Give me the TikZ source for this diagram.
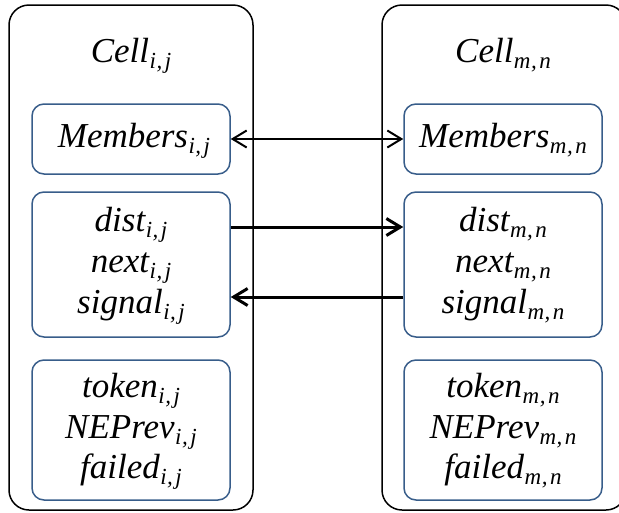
\documentclass[tikz,border=0pt]{standalone}
\usepackage{fontspec}
\setmainfont{Liberation Serif}
\usetikzlibrary{arrows.meta}
\definecolor{boxblue}{RGB}{56,93,138}
% italic subscript set smaller and lowered, with the comma spaced out
\newcommand{\sbs}[2]{\raisebox{-6pt}{\fontsize{23}{23}\selectfont\kern0.5pt#1\kern0.5pt,\kern2.5pt#2}}
\begin{document}
\begin{tikzpicture}[x=1pt,y=-1pt,
  cellbox/.style={draw=black,line width=1.5pt,rounded corners=20pt,minimum width=244pt,minimum height=505pt,inner sep=0pt},
  varbox/.style={draw=boxblue,line width=1.5pt,rounded corners=12pt,minimum width=198pt,inner sep=0pt},
  lbl/.style={anchor=base,inner sep=0pt,font=\fontsize{35}{35}\selectfont\itshape},
  link/.style={line width=2pt,-{Straight Barb[length=14pt,width=17pt]}},
  thicklink/.style={line width=3pt,-{Straight Barb[length=14pt,width=17pt]}}]
\useasboundingbox (0,0) rectangle (619,512);

% outer cells
\node[cellbox] (cl) at (131,257.5) {};
\node[cellbox] (cr) at (504,257.5) {};

% variable groups
\node[varbox,minimum height=70pt]  (ml) at (131,139) {};
\node[varbox,minimum height=145pt] (dl) at (131,264.5) {};
\node[varbox,minimum height=140pt] (tl) at (131,430) {};
\node[varbox,minimum height=70pt]  (mr) at (503,139) {};
\node[varbox,minimum height=145pt] (dr) at (503,264.5) {};
\node[varbox,minimum height=140pt] (tr) at (503,430) {};

% labels, left cell
\node[lbl] (cellij) at (131,62) {Cell\sbs{i}{j}};
\node[lbl] (memij) at (134,147) {Members\sbs{i}{j}};
\node[lbl] (distij) at (131,231) {dist\sbs{i}{j}};
\node[lbl] (nextij) at (131,272) {next\sbs{i}{j}};
\node[lbl] (sigij) at (131,313) {signal\sbs{i}{j}};
\node[lbl] (tokij) at (131,397) {token\sbs{i}{j}};
\node[lbl] (nepij) at (131,438) {NEPrev\sbs{i}{j}};
\node[lbl] (failij) at (131,478) {failed\sbs{i}{j}};

% labels, right cell
\node[lbl] (cellmn) at (503,62) {Cell\sbs{m}{n}};
\node[lbl] (memmn) at (503,147) {Members\sbs{m}{n}};
\node[lbl] (distmn) at (503,231) {dist\sbs{m}{n}};
\node[lbl] (nextmn) at (503,272) {next\sbs{m}{n}};
\node[lbl] (sigmn) at (503,313) {signal\sbs{m}{n}};
\node[lbl] (tokmn) at (503,397) {token\sbs{m}{n}};
\node[lbl] (nepmn) at (503,438) {NEPrev\sbs{m}{n}};
\node[lbl] (failmn) at (503,478) {failed\sbs{m}{n}};

% exchanges between the cells
\draw[link,{Straight Barb[length=14pt,width=17pt]}-{Straight Barb[length=14pt,width=17pt]}] (ml.east) -- (mr.west);
\draw[thicklink] ([yshift=37.5pt]dl.east) -- ([yshift=37.5pt]dr.west);
\draw[thicklink] ([yshift=-32.5pt]dr.west) -- ([yshift=-32.5pt]dl.east);
\end{tikzpicture}
\end{document}
